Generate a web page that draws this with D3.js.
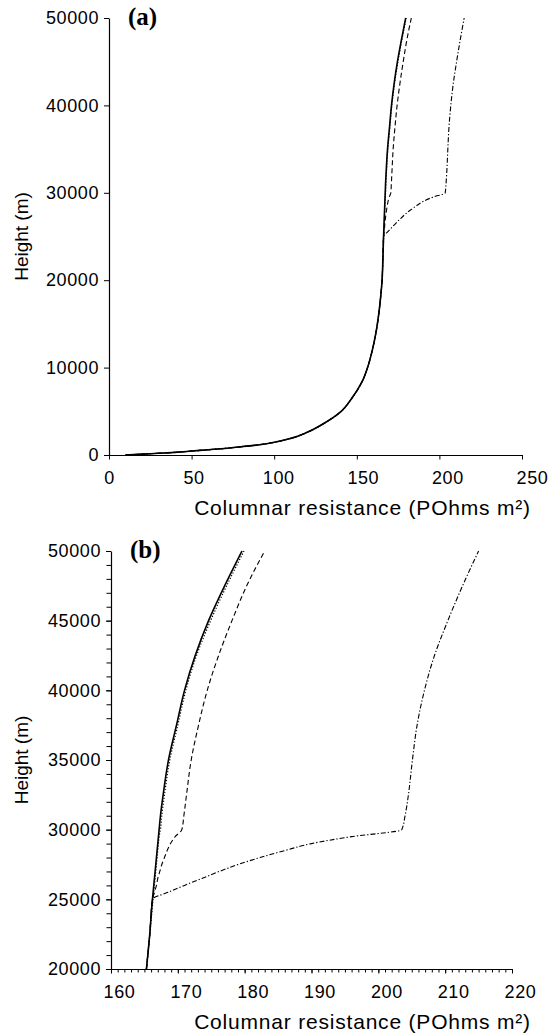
<!DOCTYPE html>
<html><head><meta charset="utf-8">
<script src="https://cdn.jsdelivr.net/npm/d3@7"></script>
<style>body{margin:0;background:#fff}svg{display:block}</style>
</head><body>
<svg id="c" width="559" height="1033"></svg>
<script>
// Heights (m) at which the columnar resistance was read
const heights = [0,100,200,300,450,600,750,950,1150,1450,1900,2600,3600,4900,6500,8500,10000,12000,14000,16000,18000,20000,22500,25000,25500,26000,26500,27000,27500,28000,28500,29000,29500,30000,31000,32500,35000,37500,40000,42500,45000,47500,50000];
// Columnar resistance (POhms m^2) for each scenario
const seriesSolid = [10,20,30,40,50,60,70,80,90,100,110,120,130,140,147,153.5,156.5,159.4,161.6,163.2,164.4,165.3,165.8,166.2,166.3,166.4,166.5,166.6,166.7,166.8,166.9,167.0,167.1,167.2,167.4,167.8,168.6,169.8,171.0,172.6,174.6,177.0,179.6];
const seriesDotted = [10,20,30,40,50,60,70,80,90,100,110,120,130,140,147,153.5,156.5,159.4,161.6,163.2,164.4,165.3,165.8,166.3,166.4,166.5,166.6,166.7,166.8,166.9,167.0,167.1,167.2,167.4,167.6,168.0,168.8,170.0,171.2,172.8,174.9,177.3,179.9];
const seriesDashed = [10,20,30,40,50,60,70,80,90,100,110,120,130,140,147,153.5,156.5,159.4,161.6,163.2,164.4,165.3,165.8,166.2,166.5,166.8,167.0,167.3,167.6,168.0,168.4,168.9,169.6,170.6,170.9,171.3,172.0,173.1,174.4,176.1,178.1,180.3,183.0];
const seriesDashDot = [10,20,30,40,50,60,70,80,90,100,110,120,130,140,147,153.5,156.5,159.4,161.6,163.2,164.4,165.3,165.8,166.2,168.5,171.0,173.6,176.2,179.0,182.3,186.0,190.0,196.0,203.5,204.0,204.5,205.1,205.8,206.9,208.4,210.4,212.6,215.0];

const xTicksA = [0,50,100,150,200,250];
const yTicksA = [0,10000,20000,30000,40000,50000];
const xTicksB = [160,170,180,190,200,210,220];
const yTicksB = [20000,25000,30000,35000,40000,45000,50000];
const panelLabels = ["(a)","(b)"];
const xTitle = "Columnar resistance (POhms m²)";
const yTitle = "Height (m)";

const styles = [
  {values: seriesSolid, dash: null, w: 1.6},
  {values: seriesDotted, dash: "1.2,1.8", w: 1.2},
  {values: seriesDashed, dash: "5,3", w: 1.1},
  {values: seriesDashDot, dash: "5,2,1.3,2", w: 1.1}
];

const svg = d3.select("#c");
svg.append("rect").attr("width",559).attr("height",1033).attr("fill","#fff");
const font = "Liberation Sans, Arial, sans-serif";

function panel(cfg){
  const x = d3.scaleLinear().domain(cfg.xDom).range(cfg.xR);
  const y = d3.scaleLinear().domain(cfg.yDom).range(cfg.yR);
  const g = svg.append("g");

  if (cfg.xMinor){
    g.append("g").attr("transform",`translate(0,${cfg.yR[0]})`)
      .call(d3.axisBottom(x).tickValues(cfg.xMinor).tickSize(3.5).tickFormat("").tickSizeOuter(0))
      .call(a=>a.select(".domain").remove());
    g.append("g").attr("transform",`translate(${cfg.xR[0]},0)`)
      .call(d3.axisLeft(y).tickValues(cfg.yMinor).tickSize(4.5).tickFormat("").tickSizeOuter(0))
      .call(a=>a.select(".domain").remove());
  }
  const xa = g.append("g").attr("transform",`translate(0,${cfg.yR[0]})`)
    .call(d3.axisBottom(x).tickValues(cfg.xTicks).tickSize(4.5).tickPadding(12).tickSizeOuter(0).tickFormat(d3.format("d")));
  xa.selectAll("text").attr("font-family",font).attr("font-size",18).attr("letter-spacing",0.6).attr("fill","#000")
    .attr("dx",(d,i)=>cfg.xdx(i));
  const ya = g.append("g").attr("transform",`translate(${cfg.xR[0]},0)`)
    .call(d3.axisLeft(y).tickValues(cfg.yTicks).tickSize(5).tickPadding(5).tickSizeOuter(0).tickFormat(d3.format("d")));
  ya.selectAll("text").attr("font-family",font).attr("font-size",18).attr("letter-spacing",0.6).attr("fill","#000");
  g.selectAll(".domain").attr("stroke","#000").attr("stroke-width",1.2);
  g.selectAll(".tick line").attr("stroke","#000").attr("stroke-width",1);

  const idx = heights.map((h,i)=>i).filter(i=>heights[i]>=cfg.yDom[0]);
  styles.forEach(s=>{
    const line = d3.line().x(i=>x(s.values[i])).y(i=>y(heights[i])).curve(d3.curveMonotoneY);
    g.append("path").attr("d",line(idx)).attr("fill","none").attr("stroke","#000")
      .attr("stroke-width",s.w).attr("stroke-dasharray",s.dash);
  });

  g.append("text").attr("x",cfg.xR[0]+19).attr("y",cfg.yR[1]+7).text(cfg.label)
    .attr("font-family","Liberation Serif, Times New Roman, serif").attr("font-weight","bold").attr("font-size",25);
  g.append("text").attr("x",362.5).attr("y",cfg.yR[0]+60).attr("text-anchor","middle")
    .attr("font-family",font).attr("font-size",21).attr("letter-spacing",0.8).text(xTitle);
  g.append("text").attr("transform",`translate(28,${(cfg.yR[0]+cfg.yR[1])/2}) rotate(-90)`)
    .attr("text-anchor","middle").attr("font-family",font).attr("font-size",19).text(yTitle);
}

panel({xDom:[0,250], xR:[109,522], yDom:[0,50000], yR:[455,18], xTicks:xTicksA, yTicks:yTicksA, label:panelLabels[0], xdx:i=>i*2});
panel({xDom:[160,220], xR:[111,512], yDom:[20000,50000], yR:[969,551], xTicks:xTicksB, yTicks:yTicksB,
       xMinor:d3.range(160,221,1), yMinor:d3.range(20000,50001,1000), label:panelLabels[1], xdx:i=>8});
</script>
</body></html>
